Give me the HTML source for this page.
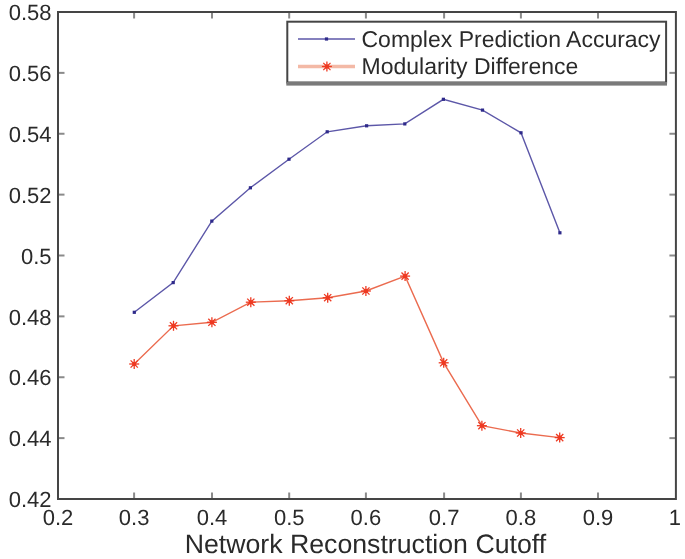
<!DOCTYPE html>
<html><head><meta charset="utf-8"><style>
html,body{margin:0;padding:0;background:#fff;}
body{width:685px;height:559px;overflow:hidden;}
svg{display:block;filter:blur(0.35px);}
text{text-rendering:geometricPrecision;}
</style></head><body>
<svg width="685" height="559" viewBox="0 0 685 559">
<g stroke="#8a8a8a" stroke-width="2"><line x1="134.1" y1="499" x2="134.1" y2="492.5"/><line x1="134.1" y1="12" x2="134.1" y2="18.5"/><line x1="212" y1="499" x2="212" y2="492.5"/><line x1="212" y1="12" x2="212" y2="18.5"/><line x1="289.2" y1="499" x2="289.2" y2="492.5"/><line x1="289.2" y1="12" x2="289.2" y2="18.5"/><line x1="365.9" y1="499" x2="365.9" y2="492.5"/><line x1="365.9" y1="12" x2="365.9" y2="18.5"/><line x1="444.1" y1="499" x2="444.1" y2="492.5"/><line x1="444.1" y1="12" x2="444.1" y2="18.5"/><line x1="520.9" y1="499" x2="520.9" y2="492.5"/><line x1="520.9" y1="12" x2="520.9" y2="18.5"/><line x1="598" y1="499" x2="598" y2="492.5"/><line x1="598" y1="12" x2="598" y2="18.5"/><line x1="58" y1="72.87" x2="64.5" y2="72.87"/><line x1="675.9" y1="72.87" x2="669.4" y2="72.87"/><line x1="58" y1="133.75" x2="64.5" y2="133.75"/><line x1="675.9" y1="133.75" x2="669.4" y2="133.75"/><line x1="58" y1="194.62" x2="64.5" y2="194.62"/><line x1="675.9" y1="194.62" x2="669.4" y2="194.62"/><line x1="58" y1="255.5" x2="64.5" y2="255.5"/><line x1="675.9" y1="255.5" x2="669.4" y2="255.5"/><line x1="58" y1="316.37" x2="64.5" y2="316.37"/><line x1="675.9" y1="316.37" x2="669.4" y2="316.37"/><line x1="58" y1="377.25" x2="64.5" y2="377.25"/><line x1="675.9" y1="377.25" x2="669.4" y2="377.25"/><line x1="58" y1="438.12" x2="64.5" y2="438.12"/><line x1="675.9" y1="438.12" x2="669.4" y2="438.12"/></g><polyline points="134.3,312.3 173.2,282.6 211.8,221.1 250.4,187.8 289.0,159.2 327.2,131.8 366.6,125.8 404.8,123.9 443.4,99.3 482.5,110.1 521.0,132.8 559.9,232.8" fill="none" stroke="#5c57a8" stroke-width="1.4"/><polyline points="134.2,364.0 173.5,325.8 211.9,322.3 250.8,302.2 289.3,300.7 327.7,297.7 365.9,291.0 405.1,276.1 443.7,362.8 481.9,425.7 520.7,433.0 559.7,437.6" fill="none" stroke="#eb6b4f" stroke-width="1.4"/><rect x="132.7" y="310.7" width="3.2" height="3.2" fill="#2e2a8a"/><rect x="171.6" y="281.0" width="3.2" height="3.2" fill="#2e2a8a"/><rect x="210.2" y="219.5" width="3.2" height="3.2" fill="#2e2a8a"/><rect x="248.8" y="186.2" width="3.2" height="3.2" fill="#2e2a8a"/><rect x="287.4" y="157.6" width="3.2" height="3.2" fill="#2e2a8a"/><rect x="325.6" y="130.2" width="3.2" height="3.2" fill="#2e2a8a"/><rect x="365.0" y="124.2" width="3.2" height="3.2" fill="#2e2a8a"/><rect x="403.2" y="122.3" width="3.2" height="3.2" fill="#2e2a8a"/><rect x="441.8" y="97.7" width="3.2" height="3.2" fill="#2e2a8a"/><rect x="480.9" y="108.5" width="3.2" height="3.2" fill="#2e2a8a"/><rect x="519.4" y="131.2" width="3.2" height="3.2" fill="#2e2a8a"/><rect x="558.3" y="231.2" width="3.2" height="3.2" fill="#2e2a8a"/><g stroke="#ee3a22" stroke-width="1.3"><rect x="132.2" y="362.0" width="4" height="4" fill="#ee3a22" stroke="none"/><line x1="129.2" y1="364.0" x2="139.2" y2="364.0"/><line x1="134.2" y1="359.0" x2="134.2" y2="369.0"/><line x1="130.6" y1="360.4" x2="137.8" y2="367.6"/><line x1="130.6" y1="367.6" x2="137.8" y2="360.4"/></g><g stroke="#ee3a22" stroke-width="1.3"><rect x="171.5" y="323.8" width="4" height="4" fill="#ee3a22" stroke="none"/><line x1="168.5" y1="325.8" x2="178.5" y2="325.8"/><line x1="173.5" y1="320.8" x2="173.5" y2="330.8"/><line x1="169.9" y1="322.2" x2="177.1" y2="329.4"/><line x1="169.9" y1="329.4" x2="177.1" y2="322.2"/></g><g stroke="#ee3a22" stroke-width="1.3"><rect x="209.9" y="320.3" width="4" height="4" fill="#ee3a22" stroke="none"/><line x1="206.9" y1="322.3" x2="216.9" y2="322.3"/><line x1="211.9" y1="317.3" x2="211.9" y2="327.3"/><line x1="208.3" y1="318.7" x2="215.5" y2="325.9"/><line x1="208.3" y1="325.9" x2="215.5" y2="318.7"/></g><g stroke="#ee3a22" stroke-width="1.3"><rect x="248.8" y="300.2" width="4" height="4" fill="#ee3a22" stroke="none"/><line x1="245.8" y1="302.2" x2="255.8" y2="302.2"/><line x1="250.8" y1="297.2" x2="250.8" y2="307.2"/><line x1="247.2" y1="298.6" x2="254.4" y2="305.8"/><line x1="247.2" y1="305.8" x2="254.4" y2="298.6"/></g><g stroke="#ee3a22" stroke-width="1.3"><rect x="287.3" y="298.7" width="4" height="4" fill="#ee3a22" stroke="none"/><line x1="284.3" y1="300.7" x2="294.3" y2="300.7"/><line x1="289.3" y1="295.7" x2="289.3" y2="305.7"/><line x1="285.7" y1="297.1" x2="292.9" y2="304.3"/><line x1="285.7" y1="304.3" x2="292.9" y2="297.1"/></g><g stroke="#ee3a22" stroke-width="1.3"><rect x="325.7" y="295.7" width="4" height="4" fill="#ee3a22" stroke="none"/><line x1="322.7" y1="297.7" x2="332.7" y2="297.7"/><line x1="327.7" y1="292.7" x2="327.7" y2="302.7"/><line x1="324.1" y1="294.1" x2="331.3" y2="301.3"/><line x1="324.1" y1="301.3" x2="331.3" y2="294.1"/></g><g stroke="#ee3a22" stroke-width="1.3"><rect x="363.9" y="289.0" width="4" height="4" fill="#ee3a22" stroke="none"/><line x1="360.9" y1="291.0" x2="370.9" y2="291.0"/><line x1="365.9" y1="286.0" x2="365.9" y2="296.0"/><line x1="362.3" y1="287.4" x2="369.5" y2="294.6"/><line x1="362.3" y1="294.6" x2="369.5" y2="287.4"/></g><g stroke="#ee3a22" stroke-width="1.3"><rect x="403.1" y="274.1" width="4" height="4" fill="#ee3a22" stroke="none"/><line x1="400.1" y1="276.1" x2="410.1" y2="276.1"/><line x1="405.1" y1="271.1" x2="405.1" y2="281.1"/><line x1="401.5" y1="272.5" x2="408.7" y2="279.7"/><line x1="401.5" y1="279.7" x2="408.7" y2="272.5"/></g><g stroke="#ee3a22" stroke-width="1.3"><rect x="441.7" y="360.8" width="4" height="4" fill="#ee3a22" stroke="none"/><line x1="438.7" y1="362.8" x2="448.7" y2="362.8"/><line x1="443.7" y1="357.8" x2="443.7" y2="367.8"/><line x1="440.1" y1="359.2" x2="447.3" y2="366.4"/><line x1="440.1" y1="366.4" x2="447.3" y2="359.2"/></g><g stroke="#ee3a22" stroke-width="1.3"><rect x="479.9" y="423.7" width="4" height="4" fill="#ee3a22" stroke="none"/><line x1="476.9" y1="425.7" x2="486.9" y2="425.7"/><line x1="481.9" y1="420.7" x2="481.9" y2="430.7"/><line x1="478.3" y1="422.1" x2="485.5" y2="429.3"/><line x1="478.3" y1="429.3" x2="485.5" y2="422.1"/></g><g stroke="#ee3a22" stroke-width="1.3"><rect x="518.7" y="431.0" width="4" height="4" fill="#ee3a22" stroke="none"/><line x1="515.7" y1="433.0" x2="525.7" y2="433.0"/><line x1="520.7" y1="428.0" x2="520.7" y2="438.0"/><line x1="517.1" y1="429.4" x2="524.3" y2="436.6"/><line x1="517.1" y1="436.6" x2="524.3" y2="429.4"/></g><g stroke="#ee3a22" stroke-width="1.3"><rect x="557.7" y="435.6" width="4" height="4" fill="#ee3a22" stroke="none"/><line x1="554.7" y1="437.6" x2="564.7" y2="437.6"/><line x1="559.7" y1="432.6" x2="559.7" y2="442.6"/><line x1="556.1" y1="434.0" x2="563.3" y2="441.2"/><line x1="556.1" y1="441.2" x2="563.3" y2="434.0"/></g><rect x="58" y="12" width="617.9" height="487" fill="none" stroke="#454545" stroke-width="2"/><g font-family="Liberation Sans" font-size="22" fill="#2a2a2a"><text x="58" y="524.5" text-anchor="middle">0.2</text><text x="134.1" y="524.5" text-anchor="middle">0.3</text><text x="212" y="524.5" text-anchor="middle">0.4</text><text x="289.2" y="524.5" text-anchor="middle">0.5</text><text x="365.9" y="524.5" text-anchor="middle">0.6</text><text x="444.1" y="524.5" text-anchor="middle">0.7</text><text x="520.9" y="524.5" text-anchor="middle">0.8</text><text x="598" y="524.5" text-anchor="middle">0.9</text><text x="674.9" y="524.5" text-anchor="middle">1</text><text x="51.5" y="20.2" text-anchor="end">0.58</text><text x="51.5" y="81.07" text-anchor="end">0.56</text><text x="51.5" y="141.95" text-anchor="end">0.54</text><text x="51.5" y="202.82" text-anchor="end">0.52</text><text x="51.5" y="263.7" text-anchor="end">0.5</text><text x="51.5" y="324.57" text-anchor="end">0.48</text><text x="51.5" y="385.45" text-anchor="end">0.46</text><text x="51.5" y="446.32" text-anchor="end">0.44</text><text x="51.5" y="507.2" text-anchor="end">0.42</text></g><text x="365.4" y="553" text-anchor="middle" font-family="Liberation Sans" font-size="26.7" fill="#2a2a2a">Network Reconstruction Cutoff</text><rect x="287.3" y="21.7" width="378.8" height="60.8" fill="#fff" stroke="#454545" stroke-width="2"/><rect x="286.3" y="82" width="380.7" height="3.6" fill="#7a7a7a"/><line x1="298" y1="39" x2="355" y2="39" stroke="#5c57a8" stroke-width="1.6"/><rect x="324.9" y="37.4" width="3.2" height="3.2" fill="#2e2a8a"/><line x1="298" y1="66.5" x2="355" y2="66.5" stroke="#f3b9a6" stroke-width="3.5"/><g stroke="#ee3a22" stroke-width="1.3"><rect x="324.9" y="64.5" width="4" height="4" fill="#ee3a22" stroke="none"/><line x1="321.9" y1="66.5" x2="331.9" y2="66.5"/><line x1="326.9" y1="61.5" x2="326.9" y2="71.5"/><line x1="323.3" y1="62.9" x2="330.5" y2="70.1"/><line x1="323.3" y1="70.1" x2="330.5" y2="62.9"/></g><g font-family="Liberation Sans" font-size="23" fill="#2a2a2a"><text x="361.5" y="47.4">Complex Prediction Accuracy</text><text x="361.5" y="74.3">Modularity Difference</text></g>
</svg>
</body></html>
